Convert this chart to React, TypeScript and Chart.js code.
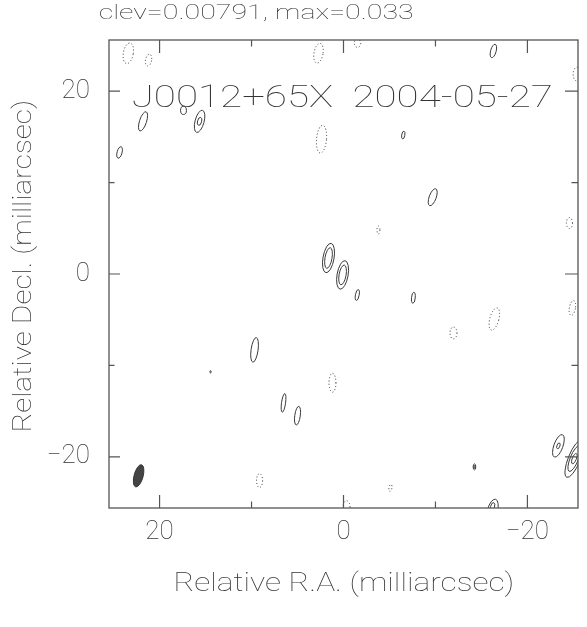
import { useEffect, useRef } from 'react';
import { Chart, registerables } from 'chart.js';

Chart.register(...registerables);

// ---------- data (milliarcsec) ----------
const titleText = 'clev=0.00791, max=0.033';
const sourceLabel = 'J0012+65X  2004-05-27';
const xTitle = 'Relative R.A. (milliarcsec)';
const yTitle = 'Relative Decl. (milliarcsec)';

const tickValues = [-20, -10, 0, 10, 20];
const labelledTicks = [-20, 0, 20];

// positive (solid) contours: centre RA, centre Dec, semi-major, semi-minor, tilt (deg)
const posRA = [21.8, 17.4, 15.65, 15.65, 24.35, -16.3, -6.5, -9.7, 1.63, 1.63, 0.1, 0.1, -1.5, -7.6, 9.67, 14.46, 6.52, 5.0, -14.24, -14.24, -23.37, -23.37, -25.1, -25.1, -25.1, -16.2, -16.2];
const posDec = [16.7, 17.9, 16.7, 16.7, 13.3, 24.4, 15.2, 8.4, 1.75, 1.75, -0.1, -0.1, -2.3, -2.6, -8.3, -10.7, -14.1, -15.5, -21.1, -21.1, -18.8, -18.8, -20.2, -20.2, -20.2, -25.9, -25.5];
const posMajor = [1.1, 0.45, 1.25, 0.45, 0.65, 0.76, 0.43, 0.98, 1.63, 1.14, 1.58, 1.09, 0.6, 0.6, 1.36, 0.13, 1.03, 1.03, 0.33, 0.15, 1.3, 0.33, 2.2, 1.5, 0.6, 1.3, 0.5];
const posMinor = [0.38, 0.32, 0.49, 0.22, 0.27, 0.3, 0.17, 0.38, 0.6, 0.38, 0.6, 0.38, 0.2, 0.2, 0.38, 0.07, 0.22, 0.3, 0.14, 0.07, 0.49, 0.16, 0.65, 0.45, 0.22, 0.55, 0.22];
const posTilt = [18, 0, 15, 15, 15, 15, 10, 20, 10, 10, 10, 10, 10, 5, 8, 0, 8, 8, 0, 0, 20, 20, 22, 22, 22, 15, 15];

// negative (dotted) contours
const negRA = [23.4, 21.2, 2.72, -1.52, -25.4, 2.39, -3.8, -16.4, -11.96, 1.2, 9.13, -0.33, -5.1, -24.57, -24.89];
const negDec = [24.15, 23.4, 24.15, 25.25, 21.86, 14.75, 4.81, -4.92, -6.45, -11.9, -22.6, -25.46, -23.4, 5.57, -3.72];
const negMajor = [1.14, 0.65, 1.09, 0.45, 0.76, 1.52, 0.43, 1.25, 0.65, 1.03, 0.76, 0.65, 0.38, 0.6, 0.82];
const negMinor = [0.54, 0.33, 0.49, 0.35, 0.43, 0.54, 0.16, 0.49, 0.38, 0.38, 0.33, 0.38, 0.16, 0.33, 0.33];
const negTilt = [10, 10, 10, 0, 0, 5, 0, 15, 0, 0, 0, 0, 10, 0, 10];

// restoring beam
const beamRA = [22.28];
const beamDec = [-22.08];
const beamMajor = [1.25];
const beamMinor = [0.49];
const beamTilt = [15];

// ---------- styling ----------
const FONT = 'Roboto';
const WEIGHT = '100';
const TEXT_COLOR = '#333';

const fmtTick = (v: number) => (v < 0 ? '\u2212' + Math.abs(v) : String(v));

function drawFitted(
  ctx: CanvasRenderingContext2D,
  text: string,
  cx: number,
  cy: number,
  width: number,
  capH: number,
  rotate = false
) {
  ctx.save();
  ctx.font = `${WEIGHT} 100px ${FONT}`;
  const cap = ctx.measureText('H').actualBoundingBoxAscent / 100;
  const size = capH / cap;
  ctx.font = `${WEIGHT} ${size}px ${FONT}`;
  const m = ctx.measureText(text);
  const L = m.actualBoundingBoxLeft;
  const R = m.actualBoundingBoxRight;
  const ink = L + R;
  ctx.translate(cx, cy);
  if (rotate) ctx.rotate(-Math.PI / 2);
  ctx.scale(width / ink, 1);
  ctx.textAlign = 'left';
  ctx.textBaseline = 'alphabetic';
  ctx.fillStyle = TEXT_COLOR;
  ctx.fillText(text, (L - R) / 2, capH / 2);
  ctx.restore();
}

const build = (ra: number[], dec: number[], maj: number[], mn: number[], tilt: number[]) =>
  ra.map((x, i) => ({ x, y: dec[i], a: maj[i], b: mn[i], pa: tilt[i] }));

const contourPlugin = {
  id: 'contours',
  afterDatasetsDraw(chart: any) {
    const { ctx, chartArea: ca, scales } = chart;
    const xs = scales.x;
    const ys = scales.y;
    ctx.save();
    ctx.beginPath();
    ctx.rect(ca.left, ca.top, ca.right - ca.left, ca.bottom - ca.top);
    ctx.clip();
    chart.data.datasets.forEach((ds: any) => {
      ds.data.forEach((p: any) => {
        const cx = xs.getPixelForValue(p.x);
        const cy = ys.getPixelForValue(p.y);
        const rx = Math.abs(xs.getPixelForValue(p.x + p.b) - cx);
        const ry = Math.abs(ys.getPixelForValue(p.y + p.a) - cy);
        ctx.beginPath();
        ctx.ellipse(cx, cy, rx, ry, (p.pa * Math.PI) / 180, 0, Math.PI * 2);
        ctx.lineWidth = 1;
        if (ds.kind === 'neg') {
          ctx.setLineDash([1, 2.2]);
          ctx.strokeStyle = '#333';
          ctx.stroke();
        } else if (ds.kind === 'beam') {
          ctx.setLineDash([]);
          ctx.fillStyle = '#444';
          ctx.fill();
          ctx.strokeStyle = '#333';
          ctx.stroke();
        } else {
          ctx.setLineDash([]);
          ctx.strokeStyle = '#3a3a3a';
          ctx.stroke();
        }
      });
    });
    ctx.restore();
  },
  afterDraw(chart: any) {
    const { ctx, chartArea: ca, scales } = chart;
    const xs = scales.x;
    const ys = scales.y;
    ctx.save();
    ctx.strokeStyle = '#555';
    ctx.lineWidth = 1.3;
    ctx.setLineDash([]);
    ctx.strokeRect(ca.left, ca.top, ca.right - ca.left, ca.bottom - ca.top);
    ctx.lineWidth = 1.2;
    ctx.beginPath();
    tickValues.forEach((v) => {
      const major = labelledTicks.includes(v);
      const lx = major ? 13 : 6.5;
      const ly = major ? 11 : 5.5;
      const px = xs.getPixelForValue(v);
      ctx.moveTo(px, ca.bottom);
      ctx.lineTo(px, ca.bottom - lx);
      ctx.moveTo(px, ca.top);
      ctx.lineTo(px, ca.top + lx);
      const py = ys.getPixelForValue(v);
      ctx.moveTo(ca.left, py);
      ctx.lineTo(ca.left + ly, py);
      ctx.moveTo(ca.right, py);
      ctx.lineTo(ca.right - lx, py);
    });
    ctx.stroke();
    ctx.restore();

    drawFitted(ctx, titleText, 256.5, 11.5, 313, 15);
    drawFitted(ctx, sourceLabel, 342.5, 96, 419, 21.7);
    drawFitted(ctx, xTitle, 344, 581.7, 336, 18);
    drawFitted(ctx, yTitle, 22, 266, 328, 18, true);
  },
};

export default function App() {
  const ref = useRef<HTMLCanvasElement>(null);
  useEffect(() => {
    if (!ref.current) return;
    const tickFont = { family: FONT, size: 26, weight: WEIGHT as any };
    const chart = new Chart(ref.current, {
      type: 'scatter',
      data: {
        datasets: [
          { label: 'pos', kind: 'pos', data: build(posRA, posDec, posMajor, posMinor, posTilt), pointRadius: 0 } as any,
          { label: 'neg', kind: 'neg', data: build(negRA, negDec, negMajor, negMinor, negTilt), pointRadius: 0 } as any,
          { label: 'beam', kind: 'beam', data: build(beamRA, beamDec, beamMajor, beamMinor, beamTilt), pointRadius: 0 } as any,
        ],
      },
      options: {
        responsive: false,
        devicePixelRatio: 1,
        animation: false,
        events: [],
        layout: { padding: { top: 40, right: 9, left: 0, bottom: 0 } },
        plugins: { legend: { display: false }, tooltip: { enabled: false }, title: { display: false } },
        scales: {
          x: {
            type: 'linear',
            min: -25.5,
            max: 25.5,
            reverse: true,
            grid: { display: false, drawTicks: false },
            border: { display: false },
            ticks: {
              padding: 9,
              font: tickFont,
              color: TEXT_COLOR,
              autoSkip: false,
              maxRotation: 0,
              callback: (v: any) => (labelledTicks.includes(Number(v)) ? fmtTick(Number(v)) : ''),
            },
            afterBuildTicks: (s: any) => {
              s.ticks = tickValues.map((v) => ({ value: v }));
            },
            afterFit: (s: any) => {
              s.height = 119;
            },
          },
          y: {
            type: 'linear',
            min: -25.6,
            max: 25.6,
            grid: { display: false, drawTicks: false },
            border: { display: false },
            ticks: {
              padding: 19,
              font: tickFont,
              color: TEXT_COLOR,
              autoSkip: false,
              callback: (v: any) => (labelledTicks.includes(Number(v)) ? fmtTick(Number(v)) : ''),
            },
            afterBuildTicks: (s: any) => {
              s.ticks = tickValues.map((v) => ({ value: v }));
            },
            afterFit: (s: any) => {
              s.width = 109;
            },
          },
        },
      },
      plugins: [contourPlugin],
    });
    return () => chart.destroy();
  }, []);
  return (
    <div style={{ position: 'absolute', left: 0, top: 0, width: 587, height: 627, background: '#fff' }}>
      <canvas ref={ref} width={587} height={627} style={{ display: 'block', width: 587, height: 627 }} />
    </div>
  );
}
